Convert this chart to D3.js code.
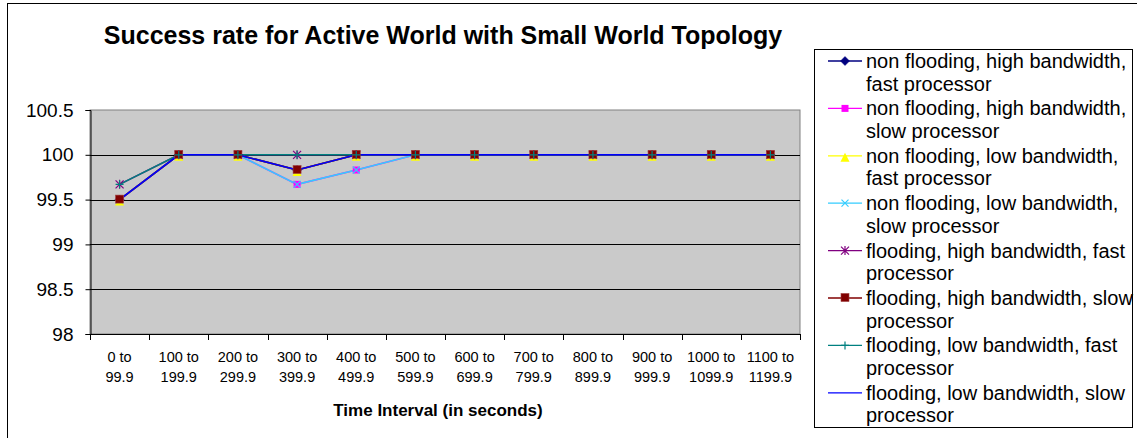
<!DOCTYPE html>
<html>
<head>
<meta charset="utf-8">
<script src="https://cdn.jsdelivr.net/npm/d3@7"></script>
<style>
  html, body { margin: 0; padding: 0; background: #fff; }
  svg { display: block; font-family: Arial, "Liberation Sans", sans-serif; }
</style>
</head>
<body>
<svg id="chart" width="1137" height="438"></svg>
<script>
// Time intervals (seconds)
const categories = ["0 to 99.9", "100 to 199.9", "200 to 299.9", "300 to 399.9",
  "400 to 499.9", "500 to 599.9", "600 to 699.9", "700 to 799.9",
  "800 to 899.9", "900 to 999.9", "1000 to 1099.9", "1100 to 1199.9"];

// Success rate (%) per configuration
const nfHighBwFast = [99.5, 100, 100, 99.83, 100, 100, 100, 100, 100, 100, 100, 100];
const nfHighBwSlow = [99.5, 100, 100, 99.67, 99.83, 100, 100, 100, 100, 100, 100, 100];
const nfLowBwFast  = [99.5, 100, 100, 99.83, 100, 100, 100, 100, 100, 100, 100, 100];
const nfLowBwSlow  = [99.5, 100, 100, 99.67, 99.83, 100, 100, 100, 100, 100, 100, 100];
const fHighBwFast  = [99.67, 100, 100, 100, 100, 100, 100, 100, 100, 100, 100, 100];
const fHighBwSlow  = [99.5, 100, 100, 99.83, 100, 100, 100, 100, 100, 100, 100, 100];
const fLowBwFast   = [99.67, 100, 100, 100, 100, 100, 100, 100, 100, 100, 100, 100];
const fLowBwSlow   = [99.5, 100, 100, 99.83, 100, 100, 100, 100, 100, 100, 100, 100];

const seriesNames = [
  ["non flooding, high bandwidth,", "fast processor"],
  ["non flooding, high bandwidth,", "slow processor"],
  ["non flooding, low bandwidth,", "fast processor"],
  ["non flooding, low bandwidth,", "slow processor"],
  ["flooding, high bandwidth, fast", "processor"],
  ["flooding, high bandwidth, slow", "processor"],
  ["flooding, low bandwidth, fast", "processor"],
  ["flooding, low bandwidth, slow", "processor"]
];
const yTicks = [98, 98.5, 99, 99.5, 100, 100.5];

const titleText = "Success rate for Active World with Small World Topology";
const xTitleText = "Time Interval (in seconds)";

const seriesValues = [nfHighBwFast, nfHighBwSlow, nfLowBwFast, nfLowBwSlow,
  fHighBwFast, fHighBwSlow, fLowBwFast, fLowBwSlow];
const colors = ["#000080", "#ff00ff", "#ffff00", "#33ccff", "#800080", "#800000", "#008080", "#0000ff"];
const markers = ["diamond", "square", "triangle", "x", "star", "bigsquare", "plus", "none"];

const series = seriesValues.map((values, i) => ({
  name: seriesNames[i], values, color: colors[i], marker: markers[i]
}));

const svg = d3.select("#chart");

// chart area frame
svg.append("rect")
  .attr("x", 7.5).attr("y", 3.5)
  .attr("width", 1140).attr("height", 440)
  .attr("fill", "#fff").attr("stroke", "#000").attr("stroke-width", 1);

const plot = { left: 90, right: 800, top: 110, bottom: 334 };

const x = d3.scaleBand().domain(categories).range([plot.left, plot.right]);
const y = d3.scaleLinear().domain([98, 100.5]).range([plot.bottom, plot.top]);

// plot background
svg.append("rect")
  .attr("x", plot.left).attr("y", plot.top)
  .attr("width", plot.right - plot.left).attr("height", plot.bottom - plot.top)
  .attr("fill", "#cacaca").attr("stroke", "#808080").attr("stroke-width", 1);

// gridlines
svg.append("g").selectAll("line")
  .data(yTicks.filter(t => t > 98 && t < 100.5))
  .join("line")
  .attr("x1", plot.left).attr("x2", plot.right)
  .attr("y1", d => Math.round(y(d)) + 0.5).attr("y2", d => Math.round(y(d)) + 0.5)
  .attr("stroke", "#000").attr("stroke-width", 1);

// y axis
const yAxis = d3.axisLeft(y).tickValues(yTicks).tickFormat(d => String(d)).tickSize(5).tickPadding(12);
const yg = svg.append("g").attr("transform", `translate(${plot.left + 0.5},0)`).call(yAxis);
yg.select(".domain").attr("stroke", "#000");
yg.selectAll(".tick line").attr("stroke", "#000");
yg.selectAll(".tick text")
  .attr("font-size", 19).attr("fill", "#000")
  .attr("font-family", "Arial, 'Liberation Sans', sans-serif");

// x axis: line, boundary ticks, two-line labels
const xg = svg.append("g");
xg.append("line")
  .attr("x1", plot.left).attr("x2", plot.right)
  .attr("y1", plot.bottom + 0.5).attr("y2", plot.bottom + 0.5)
  .attr("stroke", "#000");
const bounds = categories.map(c => x(c)).concat([x(categories[categories.length - 1]) + x.bandwidth()]);
xg.selectAll("line.tk").data(bounds).join("line").attr("class", "tk")
  .attr("x1", d => Math.round(d) + 0.5).attr("x2", d => Math.round(d) + 0.5)
  .attr("y1", plot.bottom).attr("y2", plot.bottom + 6)
  .attr("stroke", "#000");
const lbl = xg.selectAll("text.cat").data(categories).join("text").attr("class", "cat")
  .attr("text-anchor", "middle").attr("font-size", 14.5).attr("fill", "#000");
lbl.each(function (d) {
  const parts = d.split(" to ");
  const t = d3.select(this);
  const cx = x(d) + x.bandwidth() / 2;
  t.append("tspan").attr("x", cx).attr("y", 362).text(parts[0] + " to");
  t.append("tspan").attr("x", cx).attr("y", 382).text(parts[1]);
});

// titles
svg.append("text").attr("x", 443).attr("y", 44).attr("text-anchor", "middle")
  .attr("font-size", 25).attr("font-weight", "bold").text(titleText);
svg.append("text").attr("x", 438).attr("y", 416).attr("text-anchor", "middle")
  .attr("font-size", 17).attr("font-weight", "bold").text(xTitleText);

// marker drawing
function drawMarker(g, type, color, cx, cy) {
  switch (type) {
    case "diamond":
      g.append("path").attr("d", `M${cx},${cy - 4.5}L${cx + 4.5},${cy}L${cx},${cy + 4.5}L${cx - 4.5},${cy}Z`)
        .attr("fill", color).attr("stroke", color).attr("stroke-width", 0.5);
      break;
    case "square":
      g.append("rect").attr("x", cx - 3.5).attr("y", cy - 3.5).attr("width", 7).attr("height", 7)
        .attr("fill", color);
      break;
    case "bigsquare":
      g.append("rect").attr("x", cx - 4).attr("y", cy - 4.5).attr("width", 8).attr("height", 8)
        .attr("fill", color).attr("stroke", "#a04040").attr("stroke-width", 0.6);
      break;
    case "triangle":
      g.append("path").attr("d", `M${cx},${cy - 3}L${cx + 4.5},${cy + 6}L${cx - 4.5},${cy + 6}Z`)
        .attr("fill", color);
      break;
    case "x":
      g.append("path").attr("d", `M${cx - 3.5},${cy - 3.5}L${cx + 3.5},${cy + 3.5}M${cx + 3.5},${cy - 3.5}L${cx - 3.5},${cy + 3.5}`)
        .attr("stroke", color).attr("stroke-width", 1.2);
      break;
    case "star":
      g.append("path").attr("d", `M${cx - 4},${cy - 4}L${cx + 4},${cy + 4}M${cx + 4},${cy - 4}L${cx - 4},${cy + 4}M${cx},${cy - 4.5}L${cx},${cy + 4.5}`)
        .attr("stroke", color).attr("stroke-width", 1.2);
      break;
    case "plus":
      g.append("path").attr("d", `M${cx - 4},${cy}L${cx + 4},${cy}M${cx},${cy - 4}L${cx},${cy + 4}`)
        .attr("stroke", color).attr("stroke-width", 1.2);
      break;
    default:
      break;
  }
}

const line = d3.line()
  .x((d, i) => x(categories[i]) + x.bandwidth() / 2)
  .y(d => y(d));

// series lines first, markers on top
const linesG = svg.append("g");
series.forEach(s => {
  linesG.append("path").datum(s.values)
    .attr("d", line).attr("fill", "none")
    .attr("stroke", s.color).attr("stroke-width", 1.6);
});
const markG = svg.append("g");
series.forEach(s => {
  s.values.forEach((v, i) => {
    drawMarker(markG, s.marker, s.color, x(categories[i]) + x.bandwidth() / 2, y(v));
  });
});

// legend
const legend = svg.append("g");
legend.append("rect").attr("x", 814.5).attr("y", 49.5).attr("width", 318).attr("height", 378)
  .attr("fill", "#fff").attr("stroke", "#000").attr("stroke-width", 1);
series.forEach((s, i) => {
  const cy = 61 + i * 47.4;
  const g = legend.append("g");
  g.append("line").attr("x1", 828).attr("x2", 862).attr("y1", cy).attr("y2", cy)
    .attr("stroke", s.color).attr("stroke-width", 1.3);
  drawMarker(g, s.marker, s.color, 845, cy);
  const t = g.append("text").attr("font-size", 20).attr("fill", "#000");
  t.append("tspan").attr("x", 866).attr("y", cy + 7).text(s.name[0]);
  t.append("tspan").attr("x", 866).attr("y", cy + 29.5).text(s.name[1]);
});
</script>
</body>
</html>
